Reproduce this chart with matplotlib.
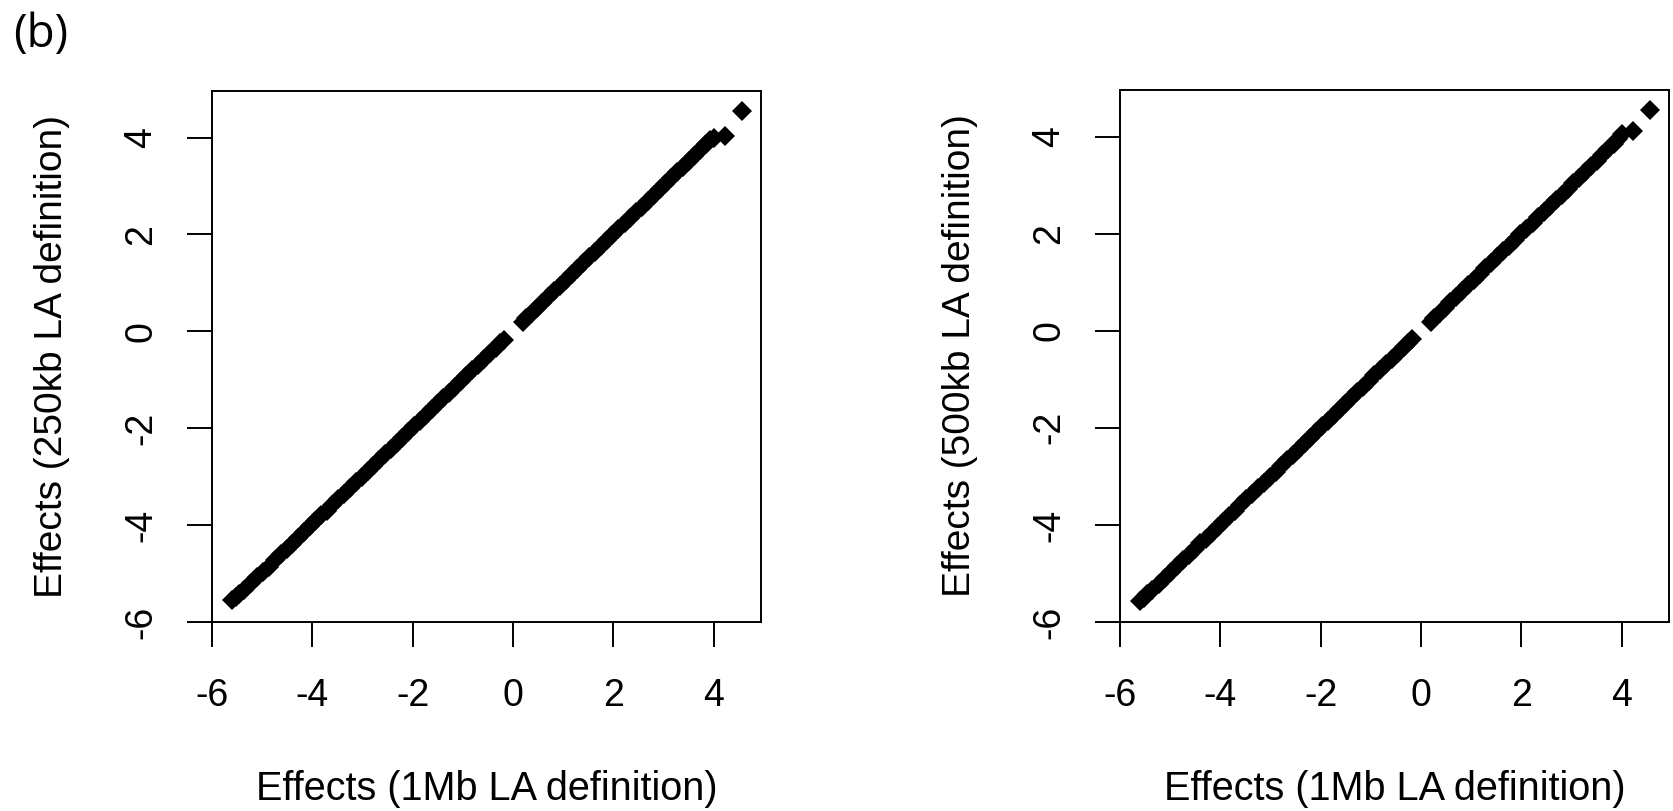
import matplotlib
matplotlib.use("Agg")
import matplotlib.pyplot as plt

plt.rcParams['font.family'] = ['Liberation Sans', 'DejaVu Sans']

# effects under the 1Mb LA definition (x axis, shared by both panels)
effects_1mb = [-5.60, -5.53, -5.46, -5.36, -5.22, -5.10, -4.99, -4.87, -4.74, -4.62,
               -4.51, -4.40, -4.29, -4.17, -4.05, -3.94, -3.82, -3.71, -3.60, -3.48,
               -3.37, -3.25, -3.13, -3.02, -2.90, -2.79, -2.67, -2.55, -2.44, -2.32,
               -2.21, -2.09, -1.97, -1.86, -1.74, -1.62, -1.51, -1.39, -1.28, -1.16,
               -1.04, -0.93, -0.81, -0.70, -0.58, -0.46, -0.35, -0.26, -0.19,
               0.19, 0.26, 0.37, 0.47, 0.58, 0.70, 0.82, 0.93, 1.05, 1.17,
               1.28, 1.40, 1.52, 1.63, 1.75, 1.87, 1.98, 2.10, 2.22, 2.33,
               2.45, 2.57, 2.68, 2.80, 2.92, 3.03, 3.15, 3.27, 3.38, 3.50,
               3.61, 3.73, 3.84, 3.92, 4.01, 4.23, 4.57]

# effects under the 250kb LA definition
effects_250kb = [-5.55, -5.48, -5.42, -5.33, -5.20, -5.08, -4.97, -4.86, -4.72, -4.60,
                 -4.49, -4.39, -4.27, -4.15, -4.02, -3.92, -3.80, -3.70, -3.58, -3.46,
                 -3.35, -3.24, -3.12, -3.01, -2.89, -2.78, -2.66, -2.54, -2.43, -2.31,
                 -2.20, -2.08, -1.96, -1.85, -1.73, -1.61, -1.50, -1.38, -1.27, -1.15,
                 -1.03, -0.92, -0.80, -0.69, -0.57, -0.45, -0.34, -0.25, -0.18,
                 0.20, 0.27, 0.38, 0.48, 0.59, 0.71, 0.83, 0.94, 1.06, 1.18,
                 1.29, 1.41, 1.53, 1.64, 1.76, 1.88, 1.99, 2.11, 2.23, 2.34,
                 2.46, 2.57, 2.69, 2.81, 2.93, 3.04, 3.16, 3.28, 3.39, 3.51,
                 3.62, 3.74, 3.86, 3.94, 4.00, 4.03, 4.54]

# effects under the 500kb LA definition
effects_500kb = [-5.56, -5.50, -5.43, -5.35, -5.21, -5.09, -4.98, -4.85, -4.73, -4.61,
                 -4.50, -4.38, -4.28, -4.16, -4.04, -3.93, -3.81, -3.71, -3.59, -3.47,
                 -3.36, -3.24, -3.13, -3.01, -2.90, -2.78, -2.67, -2.55, -2.43, -2.32,
                 -2.20, -2.09, -1.97, -1.85, -1.74, -1.62, -1.51, -1.39, -1.27, -1.16,
                 -1.04, -0.92, -0.81, -0.69, -0.58, -0.46, -0.34, -0.26, -0.18,
                 0.19, 0.27, 0.37, 0.47, 0.59, 0.70, 0.82, 0.94, 1.05, 1.17,
                 1.29, 1.40, 1.52, 1.64, 1.75, 1.87, 1.99, 2.10, 2.22, 2.34,
                 2.45, 2.57, 2.69, 2.80, 2.92, 3.04, 3.15, 3.27, 3.39, 3.50,
                 3.62, 3.74, 3.85, 3.95, 4.05, 4.12, 4.55]

ticks = [-6, -4, -2, 0, 2, 4]
xlab = 'Effects (1Mb LA definition)'
ylabs = ['Effects (250kb LA definition)', 'Effects (500kb LA definition)']

W, H = 1674, 811
fig = plt.figure(figsize=(W / 100, H / 100), dpi=100)

boxes = [(212, 91, 761, 622), (1120, 90, 1669, 622)]
yvals = [effects_250kb, effects_500kb]

for (l, t, r, b), yv, ylab in zip(boxes, yvals, ylabs):
    ax = fig.add_axes([l / W, 1 - b / H, (r - l) / W, (b - t) / H])
    ax.plot(effects_1mb, yv, linestyle='none', marker='D', markersize=10.2,
            color='black', markeredgewidth=0)
    ax.set_xlim(-6.0, 4.94)
    ax.set_ylim(-6.0, 4.96)
    ax.set_xticks(ticks)
    ax.set_yticks(ticks)
    ax.set_xticklabels([str(v) for v in ticks])
    ax.set_yticklabels([str(v) for v in ticks], rotation=90, va='center')
    for s in ax.spines.values():
        s.set_linewidth(1.4)
    ax.tick_params(direction='out', length=18, width=1.4, labelsize=27)
    ax.tick_params(axis='x', pad=22)
    ax.tick_params(axis='y', pad=20)
    ax.set_xlabel(xlab, fontsize=28.5)
    ax.set_ylabel(ylab, fontsize=28)
    ax.xaxis.set_label_coords(0.5, -0.279)
    ax.yaxis.set_label_coords(-0.259, 0.5)

fig.text(13 / W, 1 - 12 / H, '(b)', fontsize=33, family='Open Sans', ha='left', va='top')

fig.savefig('out.png', dpi=100)
